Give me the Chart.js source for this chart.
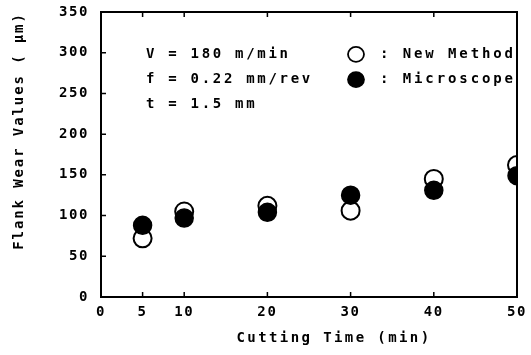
<!DOCTYPE html>
<html>
<head>
<meta charset="utf-8">
<script src="https://cdn.jsdelivr.net/npm/chart.js@4"></script>
<style>
html,body{margin:0;padding:0;background:#fff;}
#wrap{width:531px;height:355px;position:relative;}
</style>
</head>
<body>
<div id="wrap"><canvas id="c" width="531" height="355"></canvas></div>
<script>
const cuttingTime = [5, 10, 20, 30, 40, 50];
const newMethod = [72, 105, 112, 106, 145, 162];
const microscope = [88, 97, 104, 125, 131, 149];
const xTickValues = [0, 5, 10, 20, 30, 40, 50];
const xInnerTicks = [5, 10, 20, 30, 40, 50];
const yTickValues = [0, 50, 100, 150, 200, 250, 300, 350];
const conditionLines = ["V = 180 m/min", "f = 0.22 mm/rev", "t = 1.5 mm"];
const legendLabels = [": New Method", ": Microscope"];
const xTitle = "Cutting Time (min)";
const yTitle = "Flank Wear Values ( \u03bcm)";

const FONT = '"DejaVu Sans Mono", "Liberation Mono", monospace';

const decor = {
  id: 'decor',
  beforeDraw(chart) {
    chart.ctx.letterSpacing = '1.6px';
  },
  afterDraw(chart) {
    const ctx = chart.ctx;
    const xs = chart.scales.x, ys = chart.scales.y;
    const a = chart.chartArea;
    ctx.save();
    ctx.strokeStyle = '#000';
    ctx.lineWidth = 1.5;
    ctx.beginPath();
    xInnerTicks.forEach(v => {
      const px = xs.getPixelForValue(v);
      ctx.moveTo(px, a.bottom); ctx.lineTo(px, a.bottom - 5);
      ctx.moveTo(px, a.top); ctx.lineTo(px, a.top + 5);
    });
    yTickValues.forEach(v => {
      const py = ys.getPixelForValue(v);
      ctx.moveTo(a.left, py); ctx.lineTo(a.left + 5, py);
    });
    ctx.stroke();
    ctx.lineWidth = 2;
    ctx.strokeRect(a.left, a.top, a.right - a.left, a.bottom - a.top);

    ctx.fillStyle = '#000';
    ctx.font = 'bold 14px ' + FONT;
    ctx.letterSpacing = '2.7px';
    ctx.textBaseline = 'middle';
    ctx.textAlign = 'left';
    const rowY = [ys.getPixelForValue(298), ys.getPixelForValue(267), ys.getPixelForValue(236)];
    conditionLines.forEach((t, i) => ctx.fillText(t, 146, rowY[i]));
    const lx = 356;
    ctx.lineWidth = 1.8;
    ctx.beginPath(); ctx.ellipse(lx, rowY[0], 8, 7.5, 0, 0, Math.PI * 2);
    ctx.fillStyle = '#fff'; ctx.fill(); ctx.stroke();
    ctx.beginPath(); ctx.ellipse(lx, rowY[1], 8, 7.5, 0, 0, Math.PI * 2);
    ctx.fillStyle = '#000'; ctx.fill(); ctx.stroke();
    ctx.fillStyle = '#000';
    ctx.letterSpacing = '2.9px';
    legendLabels.forEach((t, i) => ctx.fillText(t, 380, rowY[i]));
    ctx.letterSpacing = '2.4px';
    ctx.textAlign = 'center';
    ctx.fillText(xTitle, 334, 338);
    ctx.save();
    ctx.translate(19, 131);
    ctx.rotate(-Math.PI / 2);
    ctx.letterSpacing = '1.9px';
    ctx.fillText(yTitle, 0, 0);
    ctx.restore();
    ctx.restore();
  }
};

new Chart(document.getElementById('c'), {
  type: 'scatter',
  data: {
    datasets: [
      {
        label: 'Microscope',
        data: cuttingTime.map((x, i) => ({x, y: microscope[i]})),
        pointStyle: 'circle',
        pointRadius: 9,
        pointBackgroundColor: '#000',
        pointBorderColor: '#000',
        pointBorderWidth: 1.5
      },
      {
        label: 'New Method',
        data: cuttingTime.map((x, i) => ({x, y: newMethod[i]})),
        pointStyle: 'circle',
        pointRadius: 9,
        pointBackgroundColor: '#fff',
        pointBorderColor: '#000',
        pointBorderWidth: 2
      }
    ]
  },
  options: {
    responsive: false,
    animation: false,
    devicePixelRatio: 1,
    layout: { padding: { left: 0, right: 14, top: 12, bottom: 0 } },
    plugins: { legend: { display: false }, tooltip: { enabled: false } },
    scales: {
      x: {
        type: 'linear', min: 0, max: 50,
        afterBuildTicks: s => { s.ticks = xTickValues.map(v => ({value: v})); },
        afterFit: s => { s.height = 58; s.paddingLeft = 0; s.paddingRight = 0; },
        grid: { display: false, drawTicks: false },
        border: { display: false },
        ticks: { color: '#000', padding: 7, maxRotation: 0, autoSkip: false,
          font: { family: FONT, size: 14, weight: 'bold' } }
      },
      y: {
        type: 'linear', min: 0, max: 350,
        afterBuildTicks: s => { s.ticks = yTickValues.map(v => ({value: v})); },
        afterFit: s => { s.width = 101; s.paddingTop = 0; s.paddingBottom = 0; },
        grid: { display: false, drawTicks: false },
        border: { display: false },
        ticks: { color: '#000', padding: 12,
          font: { family: FONT, size: 14, weight: 'bold' } }
      }
    }
  },
  plugins: [decor]
});
</script>
</body>
</html>
